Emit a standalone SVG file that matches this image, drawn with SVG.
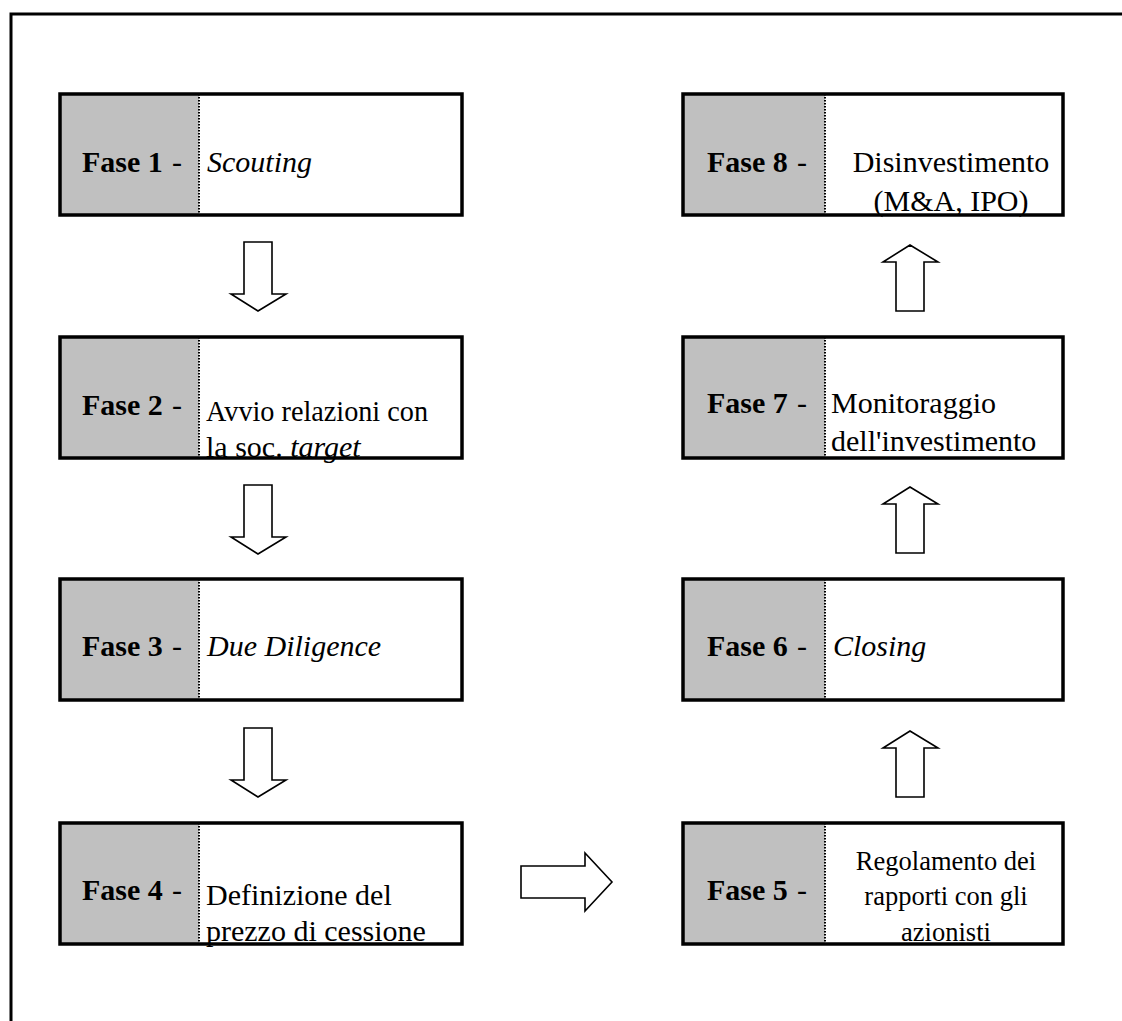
<svg xmlns="http://www.w3.org/2000/svg" width="1122" height="1021" viewBox="0 0 1122 1021">
<style>
.gray{fill:#c0c0c0}
.frame{fill:none;stroke:#000;stroke-width:3.5}
.div{stroke:#000;stroke-width:2;stroke-dasharray:1.5 1.5}
.b{font-family:"Liberation Serif",serif;font-size:30px;font-weight:bold;fill:#000}
.d{font-family:"Liberation Serif",serif;font-size:30px;fill:#000}
.t{font-family:"Liberation Serif",serif;font-size:30px;fill:#000}
.s{font-family:"Liberation Serif",serif;font-size:26.5px;fill:#000}
.i{font-style:italic}
.arr{fill:#fff;stroke:#000;stroke-width:1.6;stroke-linejoin:miter}
</style>
<rect width="1122" height="1021" fill="#fff"/>
<path d="M11 1021V14H1122" fill="none" stroke="#000" stroke-width="3"/>

<g id="fase1">
<rect x="60" y="94" width="139" height="121" class="gray"/>
<line x1="199" y1="94" x2="199" y2="215" class="div"/>
<text x="82" y="172" class="b">Fase 1</text><text x="172" y="172" class="d">-</text>
<text x="207" y="172" class="t i">Scouting</text>
<rect x="60" y="94" width="402" height="121" class="frame"/>
</g>
<g id="fase2">
<rect x="60" y="337" width="139" height="121" class="gray"/>
<line x1="199" y1="337" x2="199" y2="458" class="div"/>
<text x="82" y="415" class="b">Fase 2</text><text x="172" y="415" class="d">-</text>
<text x="206" y="421" class="t" textLength="222" lengthAdjust="spacingAndGlyphs">Avvio relazioni con</text>
<text x="206" y="457" class="t">la soc. <tspan class="i">target</tspan></text>
<rect x="60" y="337" width="402" height="121" class="frame"/>
</g>
<g id="fase3">
<rect x="60" y="579" width="139" height="121" class="gray"/>
<line x1="199" y1="579" x2="199" y2="700" class="div"/>
<text x="82" y="656" class="b">Fase 3</text><text x="172" y="656" class="d">-</text>
<text x="207" y="656" class="t i">Due Diligence</text>
<rect x="60" y="579" width="402" height="121" class="frame"/>
</g>
<g id="fase4">
<rect x="60" y="823" width="139" height="121" class="gray"/>
<line x1="199" y1="823" x2="199" y2="944" class="div"/>
<text x="82" y="900" class="b">Fase 4</text><text x="172" y="900" class="d">-</text>
<text x="206" y="905" class="t">Definizione del</text>
<text x="206" y="941" class="t">prezzo di cessione</text>
<rect x="60" y="823" width="402" height="121" class="frame"/>
</g>

<g id="fase8">
<rect x="683" y="94" width="142" height="121" class="gray"/>
<line x1="825" y1="94" x2="825" y2="215" class="div"/>
<text x="707" y="172" class="b">Fase 8</text><text x="797" y="172" class="d">-</text>
<text x="951" y="172" class="t" text-anchor="middle">Disinvestimento</text>
<text x="951" y="211" class="t" text-anchor="middle">(M&amp;A, IPO)</text>
<rect x="683" y="94" width="380" height="121" class="frame"/>
</g>
<g id="fase7">
<rect x="683" y="337" width="142" height="121" class="gray"/>
<line x1="825" y1="337" x2="825" y2="458" class="div"/>
<text x="707" y="413" class="b">Fase 7</text><text x="797" y="413" class="d">-</text>
<text x="831" y="413" class="t">Monitoraggio</text>
<text x="831" y="451" class="t">dell'investimento</text>
<rect x="683" y="337" width="380" height="121" class="frame"/>
</g>
<g id="fase6">
<rect x="683" y="579" width="142" height="121" class="gray"/>
<line x1="825" y1="579" x2="825" y2="700" class="div"/>
<text x="707" y="656" class="b">Fase 6</text><text x="797" y="656" class="d">-</text>
<text x="833" y="656" class="t i">Closing</text>
<rect x="683" y="579" width="380" height="121" class="frame"/>
</g>
<g id="fase5">
<rect x="683" y="823" width="142" height="121" class="gray"/>
<line x1="825" y1="823" x2="825" y2="944" class="div"/>
<text x="707" y="900" class="b">Fase 5</text><text x="797" y="900" class="d">-</text>
<text x="946" y="870" class="s" text-anchor="middle">Regolamento dei</text>
<text x="946" y="905" class="s" text-anchor="middle">rapporti con gli</text>
<text x="946" y="941" class="s" text-anchor="middle">azionisti</text>
<rect x="683" y="823" width="380" height="121" class="frame"/>
</g>

<g id="connectors">
<path class="arr" d="M244 242V294H231L258 311L286 294H272V242Z"/>
<path class="arr" d="M244 485V537H231L258 554L286 537H272V485Z"/>
<path class="arr" d="M244 728V780H231L258 797L286 780H272V728Z"/>
<path class="arr" d="M896 311V262H883L910 245L938 262H924V311Z"/>
<path class="arr" d="M896 553V504H883L910 487L938 504H924V553Z"/>
<path class="arr" d="M896 797V748H883L910 731L938 748H924V797Z"/>
<path class="arr" d="M521 866H585V853L612 882L585 911V898H521Z"/>
</g>
</svg>
